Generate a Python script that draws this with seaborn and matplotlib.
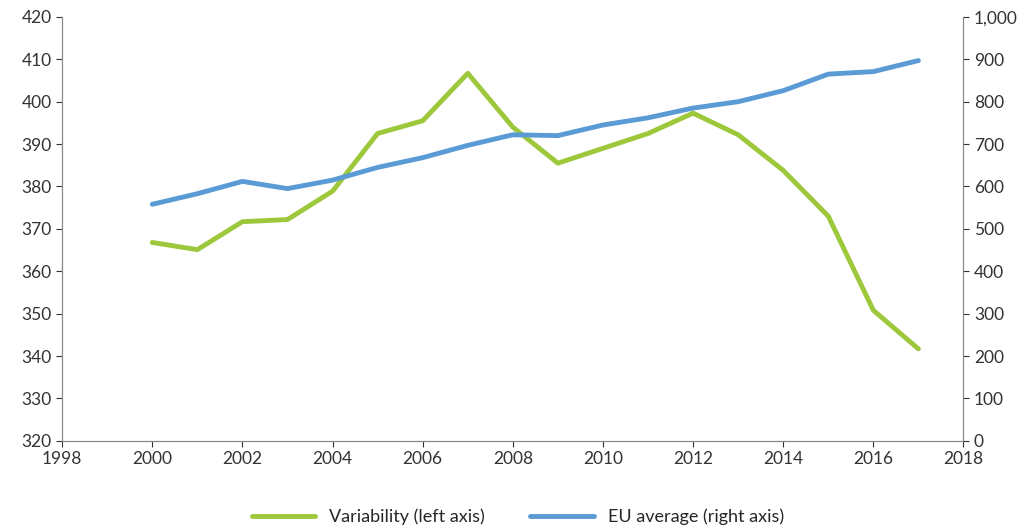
import matplotlib
matplotlib.use("Agg")
import matplotlib.pyplot as plt
import seaborn as sns
from matplotlib.ticker import FuncFormatter

years = list(range(2000, 2018))
variability = [366.8, 365.1, 371.7, 372.2, 378.9, 392.5, 395.5, 406.7, 394.0, 385.5,
               389.0, 392.5, 397.3, 392.2, 383.8, 373.0, 350.8, 341.7]
eu_average = [558, 583, 612, 595, 615, 645, 668, 697, 722, 720,
              745, 762, 785, 800, 826, 865, 871, 897]

sns.set_style("white")
plt.rcParams['font.family'] = ['Lato', 'DejaVu Sans']

fig, ax = plt.subplots(figsize=(10.36, 5.28), dpi=100)
ax2 = ax.twinx()

sns.lineplot(x=years, y=variability, ax=ax, color="#9DC83B", linewidth=3.5, label="Variability (left axis)", legend=False)
sns.lineplot(x=years, y=eu_average, ax=ax2, color="#5B9BD5", linewidth=3.5, label="EU average (right axis)", legend=False)

ax.set_xlim(1998, 2018)
ax.set_ylim(320, 420)
ax2.set_ylim(0, 1000)
ax.set_xticks(range(1998, 2019, 2))
ax.set_yticks(range(320, 421, 10))
ax2.set_yticks(range(0, 1001, 100))
ax2.yaxis.set_major_formatter(FuncFormatter(lambda v, p: f"{int(v):,}"))

for a in (ax, ax2):
    a.tick_params(labelsize=12.5, colors="#333333", length=4, direction="out")
    for s in ["left", "right", "bottom"]:
        a.spines[s].set_color("#888888")
    a.spines["top"].set_visible(False)
ax.tick_params(axis="x", bottom=True)
ax.tick_params(axis="y", left=True)
ax2.tick_params(axis="y", right=True)

lines = ax.get_lines() + ax2.get_lines()
fig.legend(lines, [l.get_label() for l in lines], loc="lower center", ncol=2,
           frameon=False, fontsize=13, bbox_to_anchor=(0.5, -0.025), handlelength=3.5, columnspacing=2.5)

fig.subplots_adjust(left=0.06, right=0.93, top=0.968, bottom=0.165)
fig.savefig("out.png", dpi=100)
